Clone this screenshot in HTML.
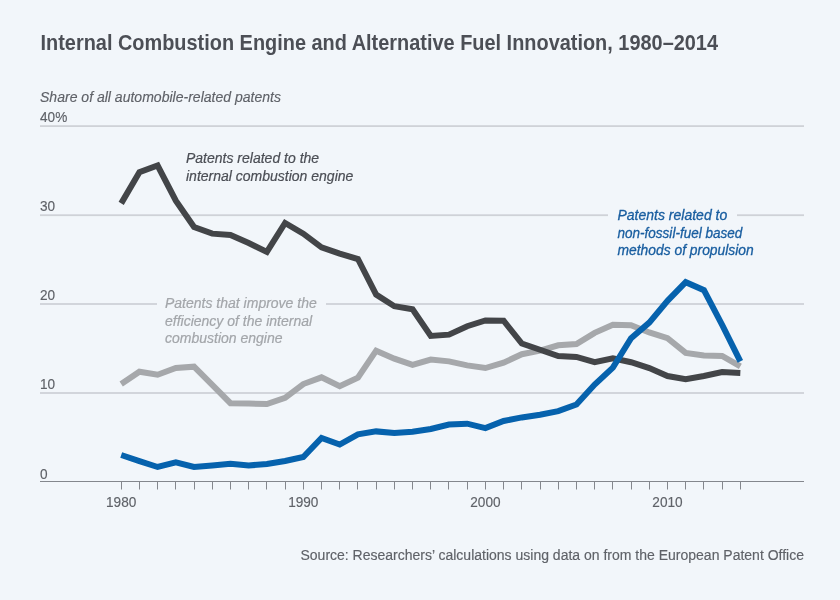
<!DOCTYPE html>
<html><head><meta charset="utf-8"><style>
html,body{margin:0;padding:0;background:#f2f6fa;}
body{width:840px;height:600px;overflow:hidden;position:relative;font-family:"Liberation Sans",sans-serif;}
svg{position:absolute;left:0;top:0;will-change:transform;}
text{font-family:"Liberation Sans",sans-serif;}
.title{font-size:21.5px;fill:#4c4f56;font-weight:bold;}
.sub{font-size:14px;fill:#5f6268;stroke:#5f6268;stroke-width:0.15px;font-style:italic;}
.lbl{font-size:14.8px;fill:#5f6268;stroke:#5f6268;stroke-width:0.15px;}
.ann{font-size:14px;font-style:italic;}
.ad{fill:#4b4e55;stroke:#4b4e55;stroke-width:0.2px;}
.bl{fill:#195ea0;stroke:#195ea0;stroke-width:0.3px;}
.ag{fill:#a3a6aa;stroke:#a3a6aa;stroke-width:0.2px;}
.src{font-size:14px;fill:#5f6268;stroke:#5f6268;stroke-width:0.15px;}
</style></head><body>
<svg width="840" height="600" viewBox="0 0 840 600">
<rect width="840" height="600" fill="#f2f6fa"/>
<text x="40.5" y="50.2" class="title" textLength="677.5" lengthAdjust="spacingAndGlyphs">Internal Combustion Engine and Alternative Fuel Innovation, 1980–2014</text>
<text x="40" y="101.5" class="sub" textLength="241" lengthAdjust="spacingAndGlyphs">Share of all automobile-related patents</text>
<text x="40" y="121.7" class="lbl" textLength="27.25" lengthAdjust="spacingAndGlyphs">40%</text>
<rect x="40" y="125.20" width="764" height="1.8" fill="#cfd2d7"/>
<rect x="40" y="214.30" width="764" height="1.8" fill="#cfd2d7"/>
<rect x="40" y="303.10" width="764" height="1.8" fill="#cfd2d7"/>
<rect x="40" y="392.10" width="764" height="1.8" fill="#cfd2d7"/>
<text x="40" y="388.7" class="lbl" textLength="15.14" lengthAdjust="spacingAndGlyphs">10</text>
<text x="40" y="299.7" class="lbl" textLength="15.14" lengthAdjust="spacingAndGlyphs">20</text>
<text x="40" y="210.9" class="lbl" textLength="15.14" lengthAdjust="spacingAndGlyphs">30</text>
<text x="40" y="479.0" class="lbl" textLength="7.57" lengthAdjust="spacingAndGlyphs">0</text>

<rect x="608" y="200" width="129" height="60" fill="#f2f6fa"/>
<rect x="157" y="292" width="169" height="56" fill="#f2f6fa"/>
<line x1="40" y1="481.5" x2="804" y2="481.5" stroke="#84878d" stroke-width="1"/>
<line x1="121.5" y1="481" x2="121.5" y2="489.5" stroke="#84878d" stroke-width="1"/><line x1="139.5" y1="481" x2="139.5" y2="489.5" stroke="#84878d" stroke-width="1"/><line x1="157.5" y1="481" x2="157.5" y2="489.5" stroke="#84878d" stroke-width="1"/><line x1="175.5" y1="481" x2="175.5" y2="489.5" stroke="#84878d" stroke-width="1"/><line x1="194.5" y1="481" x2="194.5" y2="489.5" stroke="#84878d" stroke-width="1"/><line x1="212.5" y1="481" x2="212.5" y2="489.5" stroke="#84878d" stroke-width="1"/><line x1="230.5" y1="481" x2="230.5" y2="489.5" stroke="#84878d" stroke-width="1"/><line x1="248.5" y1="481" x2="248.5" y2="489.5" stroke="#84878d" stroke-width="1"/><line x1="266.5" y1="481" x2="266.5" y2="489.5" stroke="#84878d" stroke-width="1"/><line x1="285.5" y1="481" x2="285.5" y2="489.5" stroke="#84878d" stroke-width="1"/><line x1="303.5" y1="481" x2="303.5" y2="489.5" stroke="#84878d" stroke-width="1"/><line x1="321.5" y1="481" x2="321.5" y2="489.5" stroke="#84878d" stroke-width="1"/><line x1="339.5" y1="481" x2="339.5" y2="489.5" stroke="#84878d" stroke-width="1"/><line x1="357.5" y1="481" x2="357.5" y2="489.5" stroke="#84878d" stroke-width="1"/><line x1="376.5" y1="481" x2="376.5" y2="489.5" stroke="#84878d" stroke-width="1"/><line x1="394.5" y1="481" x2="394.5" y2="489.5" stroke="#84878d" stroke-width="1"/><line x1="412.5" y1="481" x2="412.5" y2="489.5" stroke="#84878d" stroke-width="1"/><line x1="430.5" y1="481" x2="430.5" y2="489.5" stroke="#84878d" stroke-width="1"/><line x1="448.5" y1="481" x2="448.5" y2="489.5" stroke="#84878d" stroke-width="1"/><line x1="467.5" y1="481" x2="467.5" y2="489.5" stroke="#84878d" stroke-width="1"/><line x1="485.5" y1="481" x2="485.5" y2="489.5" stroke="#84878d" stroke-width="1"/><line x1="503.5" y1="481" x2="503.5" y2="489.5" stroke="#84878d" stroke-width="1"/><line x1="521.5" y1="481" x2="521.5" y2="489.5" stroke="#84878d" stroke-width="1"/><line x1="540.5" y1="481" x2="540.5" y2="489.5" stroke="#84878d" stroke-width="1"/><line x1="558.5" y1="481" x2="558.5" y2="489.5" stroke="#84878d" stroke-width="1"/><line x1="576.5" y1="481" x2="576.5" y2="489.5" stroke="#84878d" stroke-width="1"/><line x1="594.5" y1="481" x2="594.5" y2="489.5" stroke="#84878d" stroke-width="1"/><line x1="612.5" y1="481" x2="612.5" y2="489.5" stroke="#84878d" stroke-width="1"/><line x1="631.5" y1="481" x2="631.5" y2="489.5" stroke="#84878d" stroke-width="1"/><line x1="649.5" y1="481" x2="649.5" y2="489.5" stroke="#84878d" stroke-width="1"/><line x1="667.5" y1="481" x2="667.5" y2="489.5" stroke="#84878d" stroke-width="1"/><line x1="685.5" y1="481" x2="685.5" y2="489.5" stroke="#84878d" stroke-width="1"/><line x1="703.5" y1="481" x2="703.5" y2="489.5" stroke="#84878d" stroke-width="1"/><line x1="722.5" y1="481" x2="722.5" y2="489.5" stroke="#84878d" stroke-width="1"/><line x1="740.5" y1="481" x2="740.5" y2="489.5" stroke="#84878d" stroke-width="1"/>
<text x="121.2" y="506.9" class="lbl" textLength="30.28" lengthAdjust="spacingAndGlyphs" text-anchor="middle">1980</text>
<text x="303.3" y="506.9" class="lbl" textLength="30.28" lengthAdjust="spacingAndGlyphs" text-anchor="middle">1990</text>
<text x="485.4" y="506.9" class="lbl" textLength="30.28" lengthAdjust="spacingAndGlyphs" text-anchor="middle">2000</text>
<text x="667.5" y="506.9" class="lbl" textLength="30.28" lengthAdjust="spacingAndGlyphs" text-anchor="middle">2010</text>

<polyline points="121.20,383.96 139.41,371.76 157.62,374.70 175.83,368.02 194.04,366.69 212.25,384.94 230.46,403.18 248.67,403.62 266.88,404.07 285.09,397.84 303.30,384.05 321.51,377.37 339.72,386.27 357.93,377.64 376.14,350.67 394.35,358.68 412.56,364.91 430.77,359.57 448.98,361.35 467.19,365.36 485.40,368.02 503.61,362.69 521.82,354.23 540.03,350.67 558.24,345.33 576.45,344.00 594.66,332.87 612.87,324.86 631.08,325.30 649.29,332.42 667.50,338.21 685.71,352.89 703.92,355.56 722.13,356.01 740.34,366.42" fill="none" stroke="#a6a8ab" stroke-width="6" stroke-linejoin="miter"/>
<polyline points="121.20,203.38 139.41,172.22 157.62,165.55 175.83,200.70 194.04,226.96 212.25,233.63 230.46,234.97 248.67,242.98 266.88,251.88 285.09,222.95 303.30,233.63 321.51,247.43 339.72,253.66 357.93,259.00 376.14,294.60 394.35,306.17 412.56,309.28 430.77,335.99 448.98,334.65 467.19,326.19 485.40,320.41 503.61,320.68 521.82,343.55 540.03,349.78 558.24,356.01 576.45,356.90 594.66,362.24 612.87,358.24 631.08,362.24 649.29,368.02 667.50,376.03 685.71,379.15 703.92,376.03 722.13,372.03 740.34,372.92" fill="none" stroke="#434548" stroke-width="6" stroke-linejoin="miter"/>
<polyline points="121.20,454.98 139.41,461.03 157.62,466.99 175.83,462.37 194.04,466.99 212.25,465.48 230.46,463.70 248.67,465.48 266.88,463.97 285.09,461.03 303.30,457.02 321.51,437.89 339.72,444.56 357.93,434.33 376.14,431.39 394.35,433.00 412.56,431.66 430.77,428.99 448.98,424.54 467.19,423.65 485.40,428.10 503.61,420.98 521.82,417.42 540.03,414.75 558.24,411.19 576.45,404.51 594.66,384.49 612.87,367.58 631.08,338.21 649.29,322.63 667.50,300.83 685.71,282.14 703.92,290.15 722.13,324.86 740.34,361.35" fill="none" stroke="#0662ad" stroke-width="6" stroke-linejoin="miter"/>
<text x="186" y="162.6" class="ann ad">Patents related to the</text>
<text x="186" y="180.5" class="ann ad">internal combustion engine</text>
<text x="617.5" y="219.7" class="ann bl">Patents related to</text>
<text x="617.5" y="237.5" class="ann bl" textLength="124.8" lengthAdjust="spacingAndGlyphs">non-fossil-fuel based</text>
<text x="617.5" y="255.3" class="ann bl" textLength="136.2" lengthAdjust="spacingAndGlyphs">methods of propulsion</text>
<text x="165" y="308.1" class="ann ag">Patents that improve the</text>
<text x="165" y="325.5" class="ann ag">efficiency of the internal</text>
<text x="165" y="343.3" class="ann ag">combustion engine</text>
<text x="804" y="560" class="src" text-anchor="end">Source: Researchers’ calculations using data on from the European Patent Office</text>
</svg>
</body></html>
